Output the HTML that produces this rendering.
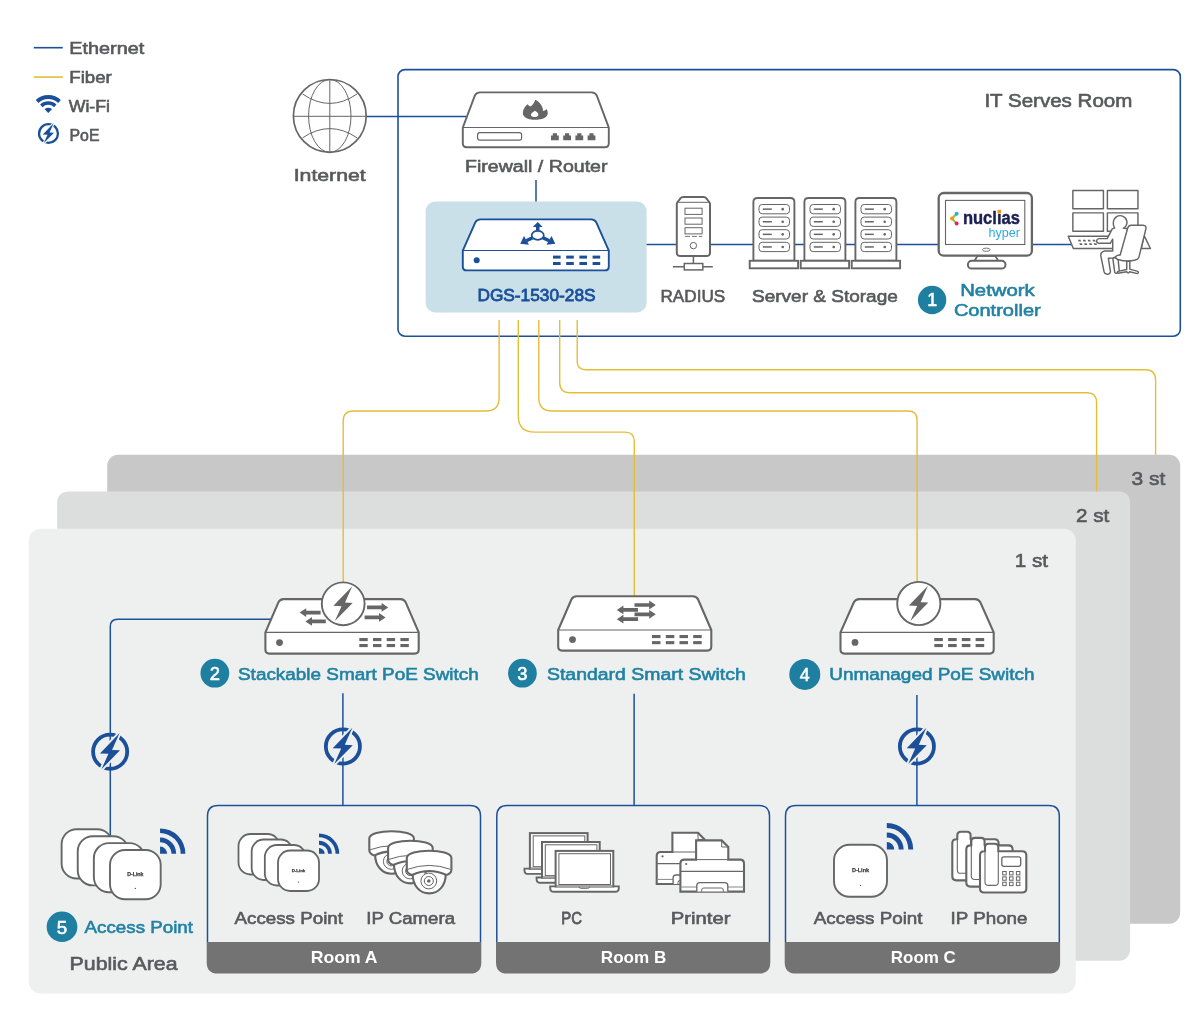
<!DOCTYPE html>
<html><head><meta charset="utf-8"><title>Network Diagram</title>
<style>html,body{margin:0;padding:0;background:#fff;}svg{display:block;will-change:opacity;filter:contrast(1);}text{font-family:"Liberation Sans",sans-serif;}</style></head>
<body>
<svg width="1200" height="1034" viewBox="0 0 1200 1034">
<rect x="107.2" y="454.7" width="1073" height="469" rx="11" fill="#c8c8c8"/>
<rect x="57.1" y="491.4" width="1073" height="469.4" rx="11" fill="#dcdede"/>
<rect x="28.8" y="528.8" width="1047" height="464.6" rx="12" fill="#eef0f0"/>
<rect x="398" y="69.6" width="782.3" height="266.6" rx="7" fill="#fff" stroke="#1d509a" stroke-width="1.6"/>
<rect x="425.6" y="201.6" width="221" height="110.8" rx="9.5" fill="#c9e0e9"/>
<path fill="none" stroke="#e4bd39" stroke-width="1.4" d="M499.1,320 V398 Q499.1,411 486,411 H353.4 Q343.2,411 343.2,421 V583"/>
<path fill="none" stroke="#e4bd39" stroke-width="1.4" d="M518.3,320 V416 Q518.3,432.1 535,432.1 H625 Q634.3,432.1 634.3,441.5 V596"/>
<path fill="none" stroke="#e4bd39" stroke-width="1.4" d="M538.8,320 V398 Q538.8,411 552,411 H908 Q917.1,411 917.1,420 V582.5"/>
<path fill="none" stroke="#e4bd39" stroke-width="1.4" d="M559.7,320 V382.5 Q559.7,392.7 570,392.7 H1087 Q1096.6,392.7 1096.6,402.5 V491.4"/>
<path fill="none" stroke="#e4bd39" stroke-width="1.4" d="M577.2,320 V361.5 Q577.2,369.7 585.5,369.7 H1145.5 Q1155.6,369.7 1155.6,380 V454.7"/>
<path fill="none" stroke="#1d509a" stroke-width="1.5" d="M366.5,116.5 H466"/>
<path fill="none" stroke="#1d509a" stroke-width="1.5" d="M536,180 V201.6"/>
<path fill="none" stroke="#1d509a" stroke-width="1.5" d="M646.6,244.6 H1072"/>
<path fill="none" stroke="#1d509a" stroke-width="1.5" d="M271,619.2 H117.5 Q110.3,619.2 110.3,626.5 V836"/>
<path fill="none" stroke="#1d509a" stroke-width="1.5" d="M342.9,693.3 V805.5"/>
<path fill="none" stroke="#1d509a" stroke-width="1.5" d="M634.1,693.8 V805.5"/>
<path fill="none" stroke="#1d509a" stroke-width="1.5" d="M916.9,695 V805.5"/>
<path d="M206.7,942 H481.3 V962.5 Q481.3,973.6 470.0,973.6 H218.0 Q206.7,973.6 206.7,962.5 Z" fill="#737373"/>
<path fill="none" stroke="#1d509a" stroke-width="1.5" d="M207.5,942 V816.0 Q207.5,805.5 218.0,805.5 H470.0 Q480.5,805.5 480.5,816.0 V942"/>
<text x="310.7" y="963.3" textLength="66.8" lengthAdjust="spacingAndGlyphs" font-size="16.9" fill="#fff" style="font-weight:700;" >Room A</text>
<path d="M496.0,942 H770.3 V962.5 Q770.3,973.6 759.0,973.6 H507.3 Q496.0,973.6 496.0,962.5 Z" fill="#737373"/>
<path fill="none" stroke="#1d509a" stroke-width="1.5" d="M496.8,942 V816.0 Q496.8,805.5 507.3,805.5 H759.0 Q769.5,805.5 769.5,816.0 V942"/>
<text x="600.8" y="963.3" textLength="65.5" lengthAdjust="spacingAndGlyphs" font-size="16.9" fill="#fff" style="font-weight:700;" >Room B</text>
<path d="M784.7,942 H1060.1 V962.5 Q1060.1,973.6 1048.8,973.6 H796.0 Q784.7,973.6 784.7,962.5 Z" fill="#737373"/>
<path fill="none" stroke="#1d509a" stroke-width="1.5" d="M785.5,942 V816.0 Q785.5,805.5 796.0,805.5 H1048.8 Q1059.3,805.5 1059.3,816.0 V942"/>
<text x="890.8" y="963.3" textLength="65" lengthAdjust="spacingAndGlyphs" font-size="16.9" fill="#fff" style="font-weight:700;" >Room C</text>
<path d="M33.8,47.7 H62.8" stroke="#1d509a" stroke-width="1.6"/>
<path d="M33.8,77.1 H62.8" stroke="#e4bd39" stroke-width="1.6"/>
<path d="M60.87,100.08 A18.1,18.1 0 0 0 35.73,100.08 L38.44,102.89 A14.2,14.2 0 0 1 58.16,102.89 Z" fill="#1b4f99"/>
<path d="M56.50,104.61 A11.8,11.8 0 0 0 40.10,104.61 L42.53,107.13 A8.3,8.3 0 0 1 54.07,107.13 Z" fill="#1b4f99"/>
<path d="M48.3,113.1 L51.98,109.29 A5.3,5.3 0 0 0 44.62,109.29 Z" fill="#1b4f99"/>
<circle cx="48.5" cy="133.5" r="9.45" fill="none" stroke="#1b4f99" stroke-width="2.3"/>
<polygon points="53.80,123.01 42.78,134.45 47.55,134.67 43.62,143.36 54.01,132.76 49.56,132.55" fill="#fff" stroke="#fff" stroke-width="2.12" stroke-linejoin="miter" stroke-miterlimit="12"/>
<polygon points="53.80,123.01 42.78,134.45 47.55,134.67 43.62,143.36 54.01,132.76 49.56,132.55" fill="#1b4f99"/>
<circle cx="329.8" cy="115.9" r="36.4" fill="#fff" stroke="#666666" stroke-width="1.7"/>
<ellipse cx="329.8" cy="115.9" rx="21.2" ry="36.4" fill="none" stroke="#666666" stroke-width="1"/>
<path d="M329.8,79.5 V152.3 M293.40000000000003,116.30000000000001 H366.2" fill="none" stroke="#666666" stroke-width="1"/>
<path d="M302.6,94 Q329.8,112.8 357,94 M302.6,137.8 Q329.8,119.4 357,137.8" fill="none" stroke="#666666" stroke-width="1"/>
<path d="M462.8,143.2 Q462.8,147.2 466.8,147.2 H604.8 Q608.8,147.2 608.8,143.2 V127.6 L596.8,95.6 Q595.1999999999999,92.4 591.6,92.4 H480.0 Q476.40000000000003,92.4 474.8,95.6 L462.8,127.6 Z" fill="#fff" stroke="#666666" stroke-width="1.9" stroke-linejoin="round"/>
<path d="M462.8,127.6 H608.8" stroke="#666666" stroke-width="1.04" fill="none"/>
<rect x="477.6" y="132.6" width="44" height="7.6" rx="2.2" fill="#fff" stroke="#666666" stroke-width="1.2"/>
<path d="M551,140.2 V135.4 H552.8 V133.2 H557 V135.4 H558.8 V140.2 Z" fill="#666666"/>
<path d="M563.2,140.2 V135.4 H565.0 V133.2 H569.2 V135.4 H571.0 V140.2 Z" fill="#666666"/>
<path d="M575.4,140.2 V135.4 H577.1999999999999 V133.2 H581.4 V135.4 H583.1999999999999 V140.2 Z" fill="#666666"/>
<path d="M587.6,140.2 V135.4 H589.4 V133.2 H593.6 V135.4 H595.4 V140.2 Z" fill="#666666"/>
<g transform="translate(505,92) scale(0.05)"><path fill="#666666" fill-rule="evenodd" d="M605,155 C685,195 762,275 760,378 C790,372 815,357 832,338 C862,390 862,440 835,482 C790,542 690,558 600,557 C500,558 410,532 370,470 C338,410 370,310 450,243 C470,265 490,280 512,292 C552,260 588,212 605,155 Z M600,375 C560,400 518,425 518,455 C518,487 560,502 595,502 C636,502 670,482 667,445 C664,415 626,395 600,375 Z"/></g>
<path d="M462.8,266.4 Q462.8,270.4 466.8,270.4 H604.8 Q608.8,270.4 608.8,266.4 V250.6 L596.4,222.6 Q594.8,219.4 591.2,219.4 H480.4 Q476.8,219.4 475.2,222.6 L462.8,250.6 Z" fill="#fff" stroke="#1b4f99" stroke-width="1.9" stroke-linejoin="round"/>
<path d="M462.8,250.6 H608.8" stroke="#1b4f99" stroke-width="1.04" fill="none"/>
<circle cx="476.7" cy="260.3" r="3" fill="#1b4f99"/>
<rect x="553" y="255.6" width="7.6" height="3" fill="#1b4f99"/>
<rect x="553" y="262" width="7.6" height="3" fill="#1b4f99"/>
<rect x="566.2" y="255.6" width="7.6" height="3" fill="#1b4f99"/>
<rect x="566.2" y="262" width="7.6" height="3" fill="#1b4f99"/>
<rect x="579.4" y="255.6" width="7.6" height="3" fill="#1b4f99"/>
<rect x="579.4" y="262" width="7.6" height="3" fill="#1b4f99"/>
<rect x="592.6" y="255.6" width="7.6" height="3" fill="#1b4f99"/>
<rect x="592.6" y="262" width="7.6" height="3" fill="#1b4f99"/>
<ellipse cx="537.75" cy="235.3" rx="6.05" ry="4.5" fill="#fff" stroke="#1b4f99" stroke-width="1.7"/>
<polygon points="537.75,221.9 542.7,227 539.5,227 539.5,230.6 536,230.6 536,227 532.8,227" fill="#1b4f99"/>
<polygon points="520.2,243.8 524,236 529,244.8" fill="#1b4f99"/>
<polygon points="555.3,243.8 551.5,236 546.5,244.8" fill="#1b4f99"/>
<path d="M532.4,237.9 L526.3,240.7 M543.1,237.9 L549.2,240.7" stroke="#1b4f99" stroke-width="3.4" fill="none"/>
<path d="M693.4,256 V263.5 M672.9,266.7 H712.8" stroke="#666666" stroke-width="1.5" fill="none"/>
<rect x="684.3" y="263.5" width="18.5" height="6.4" fill="#fff" stroke="#666666" stroke-width="1.5"/>
<path d="M676.8,204 Q676.8,203 677.6,202 L680.6,198.2 Q681.6,197 683.2,197 H703.6 Q705.2,197 706.2,198.2 L709.2,202 Q710,203 710,204 V252.4 Q710,256 706.4,256 H680.4 Q676.8,256 676.8,252.4 Z" fill="#fff" stroke="#666666" stroke-width="2"/>
<path d="M677.6,202.3 H709.2" fill="none" stroke="#666666" stroke-width="1"/>
<rect x="685" y="208.2" width="17.1" height="6.2" fill="#fff" stroke="#666666" stroke-width="1"/>
<rect x="685" y="218" width="17.1" height="6.2" fill="#fff" stroke="#666666" stroke-width="1"/>
<rect x="685" y="227.7" width="17.1" height="6.2" fill="#fff" stroke="#666666" stroke-width="1"/>
<path d="M685,236.4 H702.2" stroke="#666666" stroke-width="0.9" stroke-dasharray="5,1.9" fill="none"/>
<circle cx="693.4" cy="245.6" r="3.2" fill="#fff" stroke="#666666" stroke-width="1"/>
<path d="M753.4,260.8 V202 Q753.4,198 757.4,198 H790.4 Q794.4,198 794.4,202 V260.8 Z" fill="#fff" stroke="#666666" stroke-width="1.9"/>
<rect x="749.7" y="260.8" width="48.4" height="7.5" fill="#fff" stroke="#666666" stroke-width="1.9"/>
<rect x="759.0" y="204.50" width="30.5" height="9.3" rx="3.2" fill="#fff" stroke="#666666" stroke-width="1"/>
<path d="M762.8,209.15 H771.8" stroke="#666666" stroke-width="1.5" fill="none"/>
<circle cx="782.7" cy="209.15" r="1.3" fill="#666666"/>
<rect x="759.0" y="217.10" width="30.5" height="9.3" rx="3.2" fill="#fff" stroke="#666666" stroke-width="1"/>
<path d="M762.8,221.75 H771.8" stroke="#666666" stroke-width="1.5" fill="none"/>
<circle cx="782.7" cy="221.75" r="1.3" fill="#666666"/>
<rect x="759.0" y="229.70" width="30.5" height="9.3" rx="3.2" fill="#fff" stroke="#666666" stroke-width="1"/>
<path d="M762.8,234.35 H771.8" stroke="#666666" stroke-width="1.5" fill="none"/>
<circle cx="782.7" cy="234.35" r="1.3" fill="#666666"/>
<rect x="759.0" y="242.30" width="30.5" height="9.3" rx="3.2" fill="#fff" stroke="#666666" stroke-width="1"/>
<path d="M762.8,246.95 H771.8" stroke="#666666" stroke-width="1.5" fill="none"/>
<circle cx="782.7" cy="246.95" r="1.3" fill="#666666"/>
<path d="M804.4,260.8 V202 Q804.4,198 808.4,198 H841.4 Q845.4,198 845.4,202 V260.8 Z" fill="#fff" stroke="#666666" stroke-width="1.9"/>
<rect x="800.7" y="260.8" width="48.4" height="7.5" fill="#fff" stroke="#666666" stroke-width="1.9"/>
<rect x="810.0" y="204.50" width="30.5" height="9.3" rx="3.2" fill="#fff" stroke="#666666" stroke-width="1"/>
<path d="M813.8,209.15 H822.8" stroke="#666666" stroke-width="1.5" fill="none"/>
<circle cx="833.7" cy="209.15" r="1.3" fill="#666666"/>
<rect x="810.0" y="217.10" width="30.5" height="9.3" rx="3.2" fill="#fff" stroke="#666666" stroke-width="1"/>
<path d="M813.8,221.75 H822.8" stroke="#666666" stroke-width="1.5" fill="none"/>
<circle cx="833.7" cy="221.75" r="1.3" fill="#666666"/>
<rect x="810.0" y="229.70" width="30.5" height="9.3" rx="3.2" fill="#fff" stroke="#666666" stroke-width="1"/>
<path d="M813.8,234.35 H822.8" stroke="#666666" stroke-width="1.5" fill="none"/>
<circle cx="833.7" cy="234.35" r="1.3" fill="#666666"/>
<rect x="810.0" y="242.30" width="30.5" height="9.3" rx="3.2" fill="#fff" stroke="#666666" stroke-width="1"/>
<path d="M813.8,246.95 H822.8" stroke="#666666" stroke-width="1.5" fill="none"/>
<circle cx="833.7" cy="246.95" r="1.3" fill="#666666"/>
<path d="M855.4,260.8 V202 Q855.4,198 859.4,198 H892.4 Q896.4,198 896.4,202 V260.8 Z" fill="#fff" stroke="#666666" stroke-width="1.9"/>
<rect x="851.7" y="260.8" width="48.4" height="7.5" fill="#fff" stroke="#666666" stroke-width="1.9"/>
<rect x="861.0" y="204.50" width="30.5" height="9.3" rx="3.2" fill="#fff" stroke="#666666" stroke-width="1"/>
<path d="M864.8,209.15 H873.8" stroke="#666666" stroke-width="1.5" fill="none"/>
<circle cx="884.7" cy="209.15" r="1.3" fill="#666666"/>
<rect x="861.0" y="217.10" width="30.5" height="9.3" rx="3.2" fill="#fff" stroke="#666666" stroke-width="1"/>
<path d="M864.8,221.75 H873.8" stroke="#666666" stroke-width="1.5" fill="none"/>
<circle cx="884.7" cy="221.75" r="1.3" fill="#666666"/>
<rect x="861.0" y="229.70" width="30.5" height="9.3" rx="3.2" fill="#fff" stroke="#666666" stroke-width="1"/>
<path d="M864.8,234.35 H873.8" stroke="#666666" stroke-width="1.5" fill="none"/>
<circle cx="884.7" cy="234.35" r="1.3" fill="#666666"/>
<rect x="861.0" y="242.30" width="30.5" height="9.3" rx="3.2" fill="#fff" stroke="#666666" stroke-width="1"/>
<path d="M864.8,246.95 H873.8" stroke="#666666" stroke-width="1.5" fill="none"/>
<circle cx="884.7" cy="246.95" r="1.3" fill="#666666"/>
<path d="M977.6,255.8 L974.4,261 H998.4 L995.2,255.8 Z" fill="#fff" stroke="#666666" stroke-width="1.7"/>
<rect x="967.9" y="260.8" width="37.6" height="7.8" rx="3.9" fill="#fff" stroke="#666666" stroke-width="2"/>
<rect x="938.7" y="193" width="93.2" height="62.7" rx="5" fill="#fff" stroke="#666666" stroke-width="2.3"/>
<rect x="945.5" y="200.4" width="79.3" height="44.1" fill="#fff" stroke="#666666" stroke-width="1.1"/>
<ellipse cx="986.3" cy="249.7" rx="3.8" ry="1.6" fill="#fff" stroke="#666666" stroke-width="0.9"/>
<path d="M956.65,213.8 L952,218.6 L956.65,223.5" fill="none" stroke="#8cc63f" stroke-width="2.1" stroke-linecap="round" stroke-linejoin="round"/>
<circle cx="956.65" cy="213.75" r="1.95" fill="#29abe2"/>
<circle cx="956.65" cy="223.5" r="1.95" fill="#e91e63"/>
<circle cx="952" cy="218.6" r="2" fill="#f7931e"/>
<g transform="translate(1060,180) scale(0.09671)">
<rect x="133" y="108" width="316" height="190" fill="#fff" stroke="#666666" stroke-width="15.0" stroke-linejoin="round" stroke-linecap="round" stroke-linejoin="miter"/>
<rect x="490" y="108" width="316" height="190" fill="#fff" stroke="#666666" stroke-width="15.0" stroke-linejoin="round" stroke-linecap="round" stroke-linejoin="miter"/>
<rect x="133" y="340" width="316" height="190" fill="#fff" stroke="#666666" stroke-width="15.0" stroke-linejoin="round" stroke-linecap="round" stroke-linejoin="miter"/>
<rect x="490" y="340" width="316" height="190" fill="#fff" stroke="#666666" stroke-width="15.0" stroke-linejoin="round" stroke-linecap="round" stroke-linejoin="miter"/>
<path d="M870,575 L935,708 H840 Z" fill="#fff" stroke="#666666" stroke-width="15.0" stroke-linejoin="round" stroke-linecap="round"/>
<path d="M85,582 H560 V708 H138 Z" fill="#fff" stroke="#666666" stroke-width="15.0" stroke-linejoin="round" stroke-linecap="round"/>
<path d="M186,619 H212 L218,637 H192 Z" fill="#666666"/>
<path d="M236,619 H262 L268,637 H242 Z" fill="#666666"/>
<path d="M286,619 H312 L318,637 H292 Z" fill="#666666"/>
<path d="M336,619 H362 L368,637 H342 Z" fill="#666666"/>
<path d="M200,653 H226 L232,671 H206 Z" fill="#666666"/>
<path d="M250,653 H276 L282,671 H256 Z" fill="#666666"/>
<path d="M300,653 H326 L332,671 H306 Z" fill="#666666"/>
<path d="M350,653 H376 L382,671 H356 Z" fill="#666666"/>
<path d="M545,800 L566,955 Q570,968 585,963 L614,950 L600,812 Z" fill="#fff" stroke="#666666" stroke-width="15.0" stroke-linejoin="round" stroke-linecap="round"/>
<path d="M565,497 Q548,470 552,440 A70,70 0 1 1 672,488 L655,497 L700,505 L640,770 L548,806 L500,810 L522,950 Q515,978 488,975 Q462,972 455,945 L422,785 Q418,745 455,735 H545 V612 L520,655 H400 Q378,652 378,632 Q380,610 402,606 H488 L540,505 Z" fill="#fff" stroke="#666666" stroke-width="15.0" stroke-linejoin="round" stroke-linecap="round"/>
<path d="M700,498 Q707,470 735,468 H860 Q895,470 888,505 L818,790 Q812,822 770,830 Q690,850 600,822 Q568,808 578,790 Q590,775 622,775 Z" fill="#fff" stroke="#666666" stroke-width="15.0" stroke-linejoin="round" stroke-linecap="round"/>
<path d="M690,842 V925 L600,945 Q585,955 600,965 L690,948 Q705,975 720,948 L800,968 Q818,960 805,945 L722,922 V838 Z" fill="#fff" stroke="#666666" stroke-width="15.0" stroke-linejoin="round" stroke-linecap="round"/>
</g>
<path d="M265.4,649.6 Q265.4,653.6 269.4,653.6 H414.7 Q418.7,653.6 418.7,649.6 V632.4 L405.7,602.3 Q404.09999999999997,599.1 400.5,599.1 H283.6 Q280.0,599.1 278.4,602.3 L265.4,632.4 Z" fill="#fff" stroke="#666666" stroke-width="2.1" stroke-linejoin="round"/>
<path d="M265.4,632.4 H418.7" stroke="#666666" stroke-width="1.16" fill="none"/>
<circle cx="279.5" cy="642.6" r="3.4" fill="#666666"/>
<rect x="359.3" y="638" width="8.4" height="3.1" fill="#666666"/>
<rect x="359.3" y="644" width="8.4" height="3.1" fill="#666666"/>
<rect x="373" y="638" width="8.4" height="3.1" fill="#666666"/>
<rect x="373" y="644" width="8.4" height="3.1" fill="#666666"/>
<rect x="386.7" y="638" width="8.4" height="3.1" fill="#666666"/>
<rect x="386.7" y="644" width="8.4" height="3.1" fill="#666666"/>
<rect x="400.4" y="638" width="8.4" height="3.1" fill="#666666"/>
<rect x="400.4" y="644" width="8.4" height="3.1" fill="#666666"/>
<path d="M320.6,610.75 H306.20000000000005 V608.2 L299.6,612.6 L306.20000000000005,617.0 V614.45 H320.6 Z" fill="#666666"/>
<path d="M325.8,619.55 H312.0 V617.0 L305.4,621.4 L312.0,625.8 V623.25 H325.8 Z" fill="#666666"/>
<path d="M367,605.55 H381.59999999999997 V603.0 L388.2,607.4 L381.59999999999997,611.8 V609.25 H367 Z" fill="#666666"/>
<path d="M364.6,615.55 H379.0 V613.0 L385.6,617.4 L379.0,621.8 V619.25 H364.6 Z" fill="#666666"/>
<circle cx="343.2" cy="603.8000000000001" r="21.4" fill="#fff" stroke="#666666" stroke-width="1.9"/>
<polygon points="352.29,586.19 333.38,605.84 341.56,606.20 334.83,621.12 352.66,602.93 345.02,602.56" fill="#666666"/>
<path d="M558.2,646.6 Q558.2,650.6 562.2,650.6 H707.3 Q711.3,650.6 711.3,646.6 V630 L698.1,599.5 Q696.5,596.3 692.9,596.3 H576.6 Q573.0,596.3 571.4,599.5 L558.2,630 Z" fill="#fff" stroke="#666666" stroke-width="2.1" stroke-linejoin="round"/>
<path d="M558.2,630 H711.3" stroke="#666666" stroke-width="1.16" fill="none"/>
<circle cx="572.5" cy="639.6" r="3.4" fill="#666666"/>
<rect x="652" y="635" width="8.5" height="3.1" fill="#666666"/>
<rect x="652" y="641.1" width="8.5" height="3.1" fill="#666666"/>
<rect x="665.8" y="635" width="8.5" height="3.1" fill="#666666"/>
<rect x="665.8" y="641.1" width="8.5" height="3.1" fill="#666666"/>
<rect x="679.5" y="635" width="8.5" height="3.1" fill="#666666"/>
<rect x="679.5" y="641.1" width="8.5" height="3.1" fill="#666666"/>
<rect x="693.2" y="635" width="8.5" height="3.1" fill="#666666"/>
<rect x="693.2" y="641.1" width="8.5" height="3.1" fill="#666666"/>
<path d="M634.5,603.15 H649.1999999999999 V600.6 L655.8,605 L649.1999999999999,609.4 V606.85 H634.5 Z" fill="#666666"/>
<path d="M634.5,612.4499999999999 H649.1999999999999 V609.9 L655.8,614.3 L649.1999999999999,618.6999999999999 V616.15 H634.5 Z" fill="#666666"/>
<path d="M638,608.05 H623.4 V605.5 L616.8,609.9 L623.4,614.3 V611.75 H638 Z" fill="#666666"/>
<path d="M638,617.35 H623.4 V614.8000000000001 L616.8,619.2 L623.4,623.6 V621.0500000000001 H638 Z" fill="#666666"/>
<path d="M840.5,649.6 Q840.5,653.6 844.5,653.6 H989.7 Q993.7,653.6 993.7,649.6 V632.4 L980.3,602.3 Q978.7,599.1 975.1,599.1 H859.1 Q855.5,599.1 853.9,602.3 L840.5,632.4 Z" fill="#fff" stroke="#666666" stroke-width="2.1" stroke-linejoin="round"/>
<path d="M840.5,632.4 H993.7" stroke="#666666" stroke-width="1.16" fill="none"/>
<circle cx="855" cy="642.4" r="3.4" fill="#666666"/>
<rect x="934.3" y="638" width="8.6" height="3.1" fill="#666666"/>
<rect x="934.3" y="644" width="8.6" height="3.1" fill="#666666"/>
<rect x="948.1" y="638" width="8.6" height="3.1" fill="#666666"/>
<rect x="948.1" y="644" width="8.6" height="3.1" fill="#666666"/>
<rect x="961.8" y="638" width="8.6" height="3.1" fill="#666666"/>
<rect x="961.8" y="644" width="8.6" height="3.1" fill="#666666"/>
<rect x="975.6" y="638" width="8.6" height="3.1" fill="#666666"/>
<rect x="975.6" y="644" width="8.6" height="3.1" fill="#666666"/>
<circle cx="918.8" cy="603.5" r="21.6" fill="#fff" stroke="#666666" stroke-width="1.9"/>
<polygon points="927.98,585.72 908.89,605.55 917.15,605.92 910.35,620.97 928.35,602.61 920.64,602.25" fill="#666666"/>
<circle cx="110.15" cy="751.7" r="17.05" fill="none" stroke="#1b4f99" stroke-width="3.8"/>
<polygon points="119.62,732.94 99.92,753.41 108.44,753.78 101.43,769.32 120.00,750.37 112.05,749.99" fill="#eef0f0" stroke="#eef0f0" stroke-width="3.79" stroke-linejoin="miter" stroke-miterlimit="12"/>
<polygon points="119.62,732.94 99.92,753.41 108.44,753.78 101.43,769.32 120.00,750.37 112.05,749.99" fill="#1b4f99"/>
<circle cx="342.9" cy="746.5" r="17.05" fill="none" stroke="#1b4f99" stroke-width="3.8"/>
<polygon points="352.38,727.74 332.67,748.21 341.19,748.58 334.18,764.12 352.75,745.17 344.79,744.79" fill="#eef0f0" stroke="#eef0f0" stroke-width="3.79" stroke-linejoin="miter" stroke-miterlimit="12"/>
<polygon points="352.38,727.74 332.67,748.21 341.19,748.58 334.18,764.12 352.75,745.17 344.79,744.79" fill="#1b4f99"/>
<circle cx="916.9" cy="746.5" r="17.05" fill="none" stroke="#1b4f99" stroke-width="3.8"/>
<polygon points="926.38,727.74 906.67,748.21 915.19,748.58 908.18,764.12 926.75,745.17 918.79,744.79" fill="#eef0f0" stroke="#eef0f0" stroke-width="3.79" stroke-linejoin="miter" stroke-miterlimit="12"/>
<polygon points="926.38,727.74 906.67,748.21 915.19,748.58 908.18,764.12 926.75,745.17 918.79,744.79" fill="#1b4f99"/>
<rect x="61.60" y="829.30" width="50.7" height="49.2" rx="15" fill="#fff" stroke="#666666" stroke-width="1.9"/>
<rect x="77.73" y="836.20" width="50.7" height="49.2" rx="15" fill="#fff" stroke="#666666" stroke-width="1.9"/>
<rect x="93.86" y="843.10" width="50.7" height="49.2" rx="15" fill="#fff" stroke="#666666" stroke-width="1.9"/>
<rect x="109.99" y="850.00" width="50.7" height="49.2" rx="15" fill="#fff" stroke="#666666" stroke-width="1.9"/>
<circle cx="135.34" cy="888.38" r="0.65" fill="#444"/>
<path d="M185.35,853.70 A25.3,25.3 0 0 0 160.05,828.40 L160.05,833.08 A20.6195,20.6195 0 0 1 180.67,853.70 Z" fill="#1b4f99"/>
<path d="M176.17,853.70 A16.1161,16.1161 0 0 0 160.05,837.58 L160.05,842.32 A11.385,11.385 0 0 1 171.44,853.70 Z" fill="#1b4f99"/>
<path d="M160.05,853.7 L167.13,853.70 A7.0840000000000005,7.0840000000000005 0 0 0 160.05,846.62 Z" fill="#1b4f99"/>
<rect x="238.50" y="834.00" width="41" height="40.5" rx="12" fill="#fff" stroke="#666666" stroke-width="1.8"/>
<rect x="251.67" y="839.50" width="41" height="40.5" rx="12" fill="#fff" stroke="#666666" stroke-width="1.8"/>
<rect x="264.84" y="845.00" width="41" height="40.5" rx="12" fill="#fff" stroke="#666666" stroke-width="1.8"/>
<rect x="278.01" y="850.50" width="41" height="40.5" rx="12" fill="#fff" stroke="#666666" stroke-width="1.8"/>
<circle cx="298.51" cy="882.09" r="0.65" fill="#444"/>
<path d="M339.30,853.80 A20.3,20.3 0 0 0 319.00,833.50 L319.00,837.26 A16.5445,16.5445 0 0 1 335.54,853.80 Z" fill="#1b4f99"/>
<path d="M331.93,853.80 A12.9311,12.9311 0 0 0 319.00,840.87 L319.00,844.66 A9.135,9.135 0 0 1 328.13,853.80 Z" fill="#1b4f99"/>
<path d="M319,853.8 L324.68,853.80 A5.684000000000001,5.684000000000001 0 0 0 319.00,848.12 Z" fill="#1b4f99"/>
<rect x="834.00" y="844.80" width="53" height="52" rx="15.5" fill="#fff" stroke="#666666" stroke-width="1.9"/>
<circle cx="860.50" cy="885.36" r="0.65" fill="#444"/>
<path d="M913.20,849.40 A26.4,26.4 0 0 0 886.80,823.00 L886.80,827.88 A21.516,21.516 0 0 1 908.32,849.40 Z" fill="#1b4f99"/>
<path d="M903.62,849.40 A16.8168,16.8168 0 0 0 886.80,832.58 L886.80,837.52 A11.879999999999999,11.879999999999999 0 0 1 898.68,849.40 Z" fill="#1b4f99"/>
<path d="M886.8,849.4 L894.19,849.40 A7.392,7.392 0 0 0 886.80,842.01 Z" fill="#1b4f99"/>
<g transform="translate(-37.5,-19.6)">
<path d="M412.6,873.5 C412.6,886 420,893.4 429.2,893.4 C438.4,893.4 445.8,886 445.8,873.5" fill="#fff" stroke="#666666" stroke-width="2.1"/>
<circle cx="428.8" cy="881" r="7.9" fill="#fff" stroke="#666666" stroke-width="1"/>
<circle cx="428.8" cy="881" r="4.5" fill="#fff" stroke="#666666" stroke-width="1"/>
<circle cx="428.8" cy="881" r="1.8" fill="#666666"/>
<path d="M406.8,858 C406.8,848.4 451.4,848.4 451.4,858 V869.6 Q451.4,873.6 446.4,875 Q429.2,867 412,875 Q406.8,873.6 406.8,869.6 Z" fill="#fff" stroke="#666666" stroke-width="2.1" stroke-linejoin="round"/>
<path d="M407.6,869.4 Q429.2,861.4 450.6,869.4" fill="none" stroke="#666666" stroke-width="1"/>
</g>
<g transform="translate(-18.7,-10)">
<path d="M412.6,873.5 C412.6,886 420,893.4 429.2,893.4 C438.4,893.4 445.8,886 445.8,873.5" fill="#fff" stroke="#666666" stroke-width="2.1"/>
<circle cx="428.8" cy="881" r="7.9" fill="#fff" stroke="#666666" stroke-width="1"/>
<circle cx="428.8" cy="881" r="4.5" fill="#fff" stroke="#666666" stroke-width="1"/>
<circle cx="428.8" cy="881" r="1.8" fill="#666666"/>
<path d="M406.8,858 C406.8,848.4 451.4,848.4 451.4,858 V869.6 Q451.4,873.6 446.4,875 Q429.2,867 412,875 Q406.8,873.6 406.8,869.6 Z" fill="#fff" stroke="#666666" stroke-width="2.1" stroke-linejoin="round"/>
<path d="M407.6,869.4 Q429.2,861.4 450.6,869.4" fill="none" stroke="#666666" stroke-width="1"/>
</g>
<g transform="translate(0,0)">
<path d="M412.6,873.5 C412.6,886 420,893.4 429.2,893.4 C438.4,893.4 445.8,886 445.8,873.5" fill="#fff" stroke="#666666" stroke-width="2.1"/>
<circle cx="428.8" cy="881" r="7.9" fill="#fff" stroke="#666666" stroke-width="1"/>
<circle cx="428.8" cy="881" r="4.5" fill="#fff" stroke="#666666" stroke-width="1"/>
<circle cx="428.8" cy="881" r="1.8" fill="#666666"/>
<path d="M406.8,858 C406.8,848.4 451.4,848.4 451.4,858 V869.6 Q451.4,873.6 446.4,875 Q429.2,867 412,875 Q406.8,873.6 406.8,869.6 Z" fill="#fff" stroke="#666666" stroke-width="2.1" stroke-linejoin="round"/>
<path d="M407.6,869.4 Q429.2,861.4 450.6,869.4" fill="none" stroke="#666666" stroke-width="1"/>
</g>
<g transform="translate(-25.7,-17.8)">
<path d="M550.2,886.4 H618.8 V888.2 Q618.8,891.7 615.2,891.7 H553.8 Q550.2,891.7 550.2,888.2 Z" fill="#fff" stroke="#666666" stroke-width="1.9"/>
<rect x="555.6" y="850.9" width="57.7" height="35.5" fill="#fff" stroke="#666666" stroke-width="2"/>
<rect x="558.9" y="853.7" width="51.6" height="30.8" fill="#fff" stroke="#666666" stroke-width="1"/>
<path d="M556.6,886.5 H612.3" fill="none" stroke="#a9a4a2" stroke-width="1"/>
<path d="M579,886.6 Q579,888.4 581,888.4 H587.6 Q589.6,888.4 589.6,886.6" fill="none" stroke="#666666" stroke-width="0.9"/>
</g>
<g transform="translate(-13.6,-8.9)">
<path d="M550.2,886.4 H618.8 V888.2 Q618.8,891.7 615.2,891.7 H553.8 Q550.2,891.7 550.2,888.2 Z" fill="#fff" stroke="#666666" stroke-width="1.9"/>
<rect x="555.6" y="850.9" width="57.7" height="35.5" fill="#fff" stroke="#666666" stroke-width="2"/>
<rect x="558.9" y="853.7" width="51.6" height="30.8" fill="#fff" stroke="#666666" stroke-width="1"/>
<path d="M556.6,886.5 H612.3" fill="none" stroke="#a9a4a2" stroke-width="1"/>
<path d="M579,886.6 Q579,888.4 581,888.4 H587.6 Q589.6,888.4 589.6,886.6" fill="none" stroke="#666666" stroke-width="0.9"/>
</g>
<g transform="translate(0,0)">
<path d="M550.2,886.4 H618.8 V888.2 Q618.8,891.7 615.2,891.7 H553.8 Q550.2,891.7 550.2,888.2 Z" fill="#fff" stroke="#666666" stroke-width="1.9"/>
<rect x="555.6" y="850.9" width="57.7" height="35.5" fill="#fff" stroke="#666666" stroke-width="2"/>
<rect x="558.9" y="853.7" width="51.6" height="30.8" fill="#fff" stroke="#666666" stroke-width="1"/>
<path d="M556.6,886.5 H612.3" fill="none" stroke="#a9a4a2" stroke-width="1"/>
<path d="M579,886.6 Q579,888.4 581,888.4 H587.6 Q589.6,888.4 589.6,886.6" fill="none" stroke="#666666" stroke-width="0.9"/>
</g>
<g transform="translate(-23.7,-7.6)">
<path d="M680.4,891.6 V863.6 Q680.4,859.6 684.4,859.6 H696.1 V840.4 H721.7 L728.3,847 V859.6 H740 Q744,859.6 744,863.6 V891.6 Z" fill="#fff" stroke="#666666" stroke-width="2.1" stroke-linejoin="miter"/>
<path d="M696.1,859.6 H728.3 M721.7,840.8 V847 H728" fill="none" stroke="#666666" stroke-width="1"/>
<path d="M680.4,871.3 H744" fill="none" stroke="#666666" stroke-width="1.2"/>
<path d="M680.4,887 H696.8 M727.8,887 H744" fill="none" stroke="#8a8786" stroke-width="1"/>
<path d="M696.8,891.6 V885.6 Q696.8,882.6 699.8,882.6 H724.8 Q727.8,882.6 727.8,885.6 V891.6" fill="#fff" stroke="#666666" stroke-width="1.3"/>
<path d="M701.7,891.6 V890 Q701.7,888 703.7,888 H721.3 Q723.3,888 723.3,890 V891.6" fill="none" stroke="#666666" stroke-width="1"/>
<circle cx="686.2" cy="864" r="1.1" fill="#666666"/>
</g>
<g transform="translate(0,0)">
<path d="M680.4,891.6 V863.6 Q680.4,859.6 684.4,859.6 H696.1 V840.4 H721.7 L728.3,847 V859.6 H740 Q744,859.6 744,863.6 V891.6 Z" fill="#fff" stroke="#666666" stroke-width="2.1" stroke-linejoin="miter"/>
<path d="M696.1,859.6 H728.3 M721.7,840.8 V847 H728" fill="none" stroke="#666666" stroke-width="1"/>
<path d="M680.4,871.3 H744" fill="none" stroke="#666666" stroke-width="1.2"/>
<path d="M680.4,887 H696.8 M727.8,887 H744" fill="none" stroke="#8a8786" stroke-width="1"/>
<path d="M696.8,891.6 V885.6 Q696.8,882.6 699.8,882.6 H724.8 Q727.8,882.6 727.8,885.6 V891.6" fill="#fff" stroke="#666666" stroke-width="1.3"/>
<path d="M701.7,891.6 V890 Q701.7,888 703.7,888 H721.3 Q723.3,888 723.3,890 V891.6" fill="none" stroke="#666666" stroke-width="1"/>
<circle cx="686.2" cy="864" r="1.1" fill="#666666"/>
</g>
<g transform="translate(-27.7,-12.1)">
<path d="M980,888.4 V855.4 Q980,851.3 984.1,851.3 H985 V847.4 Q985,843.8 988.6,843.8 H994.7 Q998.3,843.8 998.3,847.4 V851.3 H1022.2 Q1026.3,851.3 1026.3,855.4 V888.4 Q1026.3,892.5 1022.2,892.5 H984.1 Q980,892.5 980,888.4 Z" fill="#fff" stroke="#666666" stroke-width="2.1" stroke-linejoin="round"/>
<path d="M985,851 V882 Q985,885.4 988.4,885.4 H994.9 Q998.3,885.4 998.3,882 V851" fill="none" stroke="#666666" stroke-width="1.1"/>
</g>
<g transform="translate(-13.7,-5.9)">
<path d="M980,888.4 V855.4 Q980,851.3 984.1,851.3 H985 V847.4 Q985,843.8 988.6,843.8 H994.7 Q998.3,843.8 998.3,847.4 V851.3 H1022.2 Q1026.3,851.3 1026.3,855.4 V888.4 Q1026.3,892.5 1022.2,892.5 H984.1 Q980,892.5 980,888.4 Z" fill="#fff" stroke="#666666" stroke-width="2.1" stroke-linejoin="round"/>
<path d="M985,851 V882 Q985,885.4 988.4,885.4 H994.9 Q998.3,885.4 998.3,882 V851" fill="none" stroke="#666666" stroke-width="1.1"/>
</g>
<g transform="translate(0,0)">
<path d="M980,888.4 V855.4 Q980,851.3 984.1,851.3 H985 V847.4 Q985,843.8 988.6,843.8 H994.7 Q998.3,843.8 998.3,847.4 V851.3 H1022.2 Q1026.3,851.3 1026.3,855.4 V888.4 Q1026.3,892.5 1022.2,892.5 H984.1 Q980,892.5 980,888.4 Z" fill="#fff" stroke="#666666" stroke-width="2.1" stroke-linejoin="round"/>
<path d="M985,851 V882 Q985,885.4 988.4,885.4 H994.9 Q998.3,885.4 998.3,882 V851" fill="none" stroke="#666666" stroke-width="1.1"/>
<rect x="1001.8" y="856.8" width="18.9" height="9.5" rx="2" fill="#fff" stroke="#666666" stroke-width="1.3"/>
<rect x="1002.70" y="871.50" width="3.5" height="3.4" fill="#fff" stroke="#666666" stroke-width="1"/>
<rect x="1009.55" y="871.50" width="3.5" height="3.4" fill="#fff" stroke="#666666" stroke-width="1"/>
<rect x="1016.40" y="871.50" width="3.5" height="3.4" fill="#fff" stroke="#666666" stroke-width="1"/>
<rect x="1002.70" y="876.85" width="3.5" height="3.4" fill="#fff" stroke="#666666" stroke-width="1"/>
<rect x="1009.55" y="876.85" width="3.5" height="3.4" fill="#fff" stroke="#666666" stroke-width="1"/>
<rect x="1016.40" y="876.85" width="3.5" height="3.4" fill="#fff" stroke="#666666" stroke-width="1"/>
<rect x="1002.70" y="882.20" width="3.5" height="3.4" fill="#fff" stroke="#666666" stroke-width="1"/>
<rect x="1009.55" y="882.20" width="3.5" height="3.4" fill="#fff" stroke="#666666" stroke-width="1"/>
<rect x="1016.40" y="882.20" width="3.5" height="3.4" fill="#fff" stroke="#666666" stroke-width="1"/>
</g>
<text x="69.3" y="53.8" textLength="74.9" lengthAdjust="spacingAndGlyphs" font-size="16.5" fill="#58595b" style="font-weight:400;stroke:#58595b;stroke-width:0.62px;" >Ethernet</text>
<text x="69.3" y="83" textLength="42.4" lengthAdjust="spacingAndGlyphs" font-size="16.5" fill="#58595b" style="font-weight:400;stroke:#58595b;stroke-width:0.62px;" >Fiber</text>
<text x="68.7" y="111.8" textLength="41.3" lengthAdjust="spacingAndGlyphs" font-size="16.5" fill="#58595b" style="font-weight:400;stroke:#58595b;stroke-width:0.62px;" >Wi-Fi</text>
<text x="69.5" y="140.7" textLength="30" lengthAdjust="spacingAndGlyphs" font-size="16.5" fill="#58595b" style="font-weight:400;stroke:#58595b;stroke-width:0.62px;" >PoE</text>
<text x="293.7" y="180.8" textLength="72" lengthAdjust="spacingAndGlyphs" font-size="17.1" fill="#58595b" style="font-weight:400;stroke:#58595b;stroke-width:0.62px;" >Internet</text>
<text x="465" y="172" textLength="142.5" lengthAdjust="spacingAndGlyphs" font-size="17.3" fill="#58595b" style="font-weight:400;stroke:#58595b;stroke-width:0.62px;" >Firewall / Router</text>
<text x="984.4" y="107" textLength="148" lengthAdjust="spacingAndGlyphs" font-size="18.9" fill="#58595b" style="font-weight:400;stroke:#58595b;stroke-width:0.62px;" >IT Serves Room</text>
<text x="477.4" y="300.6" textLength="118.2" lengthAdjust="spacingAndGlyphs" font-size="17.3" fill="#1b4f99" style="font-weight:400;stroke:#1b4f99;stroke-width:0.8px;" >DGS-1530-28S</text>
<text x="660.5" y="301.8" textLength="64.7" lengthAdjust="spacingAndGlyphs" font-size="17.1" fill="#58595b" style="font-weight:400;stroke:#58595b;stroke-width:0.62px;" >RADIUS</text>
<text x="752" y="301.8" textLength="145.8" lengthAdjust="spacingAndGlyphs" font-size="17.1" fill="#58595b" style="font-weight:400;stroke:#58595b;stroke-width:0.62px;" >Server &amp; Storage</text>
<text x="960.2" y="295.5" textLength="74.6" lengthAdjust="spacingAndGlyphs" font-size="17.3" fill="#2182a4" style="font-weight:400;stroke:#2182a4;stroke-width:0.62px;" >Network</text>
<text x="953.9" y="316" textLength="86.8" lengthAdjust="spacingAndGlyphs" font-size="17.3" fill="#2182a4" style="font-weight:400;stroke:#2182a4;stroke-width:0.62px;" >Controller</text>
<text x="1131.5" y="485.3" textLength="33.8" lengthAdjust="spacingAndGlyphs" font-size="18.6" fill="#58595b" style="font-weight:400;stroke:#58595b;stroke-width:0.62px;" >3 st</text>
<text x="1076" y="521.9" textLength="33.3" lengthAdjust="spacingAndGlyphs" font-size="18.6" fill="#58595b" style="font-weight:400;stroke:#58595b;stroke-width:0.62px;" >2 st</text>
<text x="1014.7" y="566.7" textLength="33.3" lengthAdjust="spacingAndGlyphs" font-size="18.6" fill="#58595b" style="font-weight:400;stroke:#58595b;stroke-width:0.62px;" >1 st</text>
<text x="238" y="679.5" textLength="240.8" lengthAdjust="spacingAndGlyphs" font-size="17.3" fill="#2182a4" style="font-weight:400;stroke:#2182a4;stroke-width:0.6px;" >Stackable Smart PoE Switch</text>
<text x="547" y="679.5" textLength="198.8" lengthAdjust="spacingAndGlyphs" font-size="17.3" fill="#2182a4" style="font-weight:400;stroke:#2182a4;stroke-width:0.6px;" >Standard Smart Switch</text>
<text x="829.3" y="679.5" textLength="205.2" lengthAdjust="spacingAndGlyphs" font-size="17.3" fill="#2182a4" style="font-weight:400;stroke:#2182a4;stroke-width:0.6px;" >Unmanaged PoE Switch</text>
<text x="84.6" y="933.4" textLength="108.4" lengthAdjust="spacingAndGlyphs" font-size="17.3" fill="#2182a4" style="font-weight:400;stroke:#2182a4;stroke-width:0.6px;" >Access Point</text>
<text x="69.6" y="969.6" textLength="108" lengthAdjust="spacingAndGlyphs" font-size="18.9" fill="#58595b" style="font-weight:400;stroke:#58595b;stroke-width:0.62px;" >Public Area</text>
<text x="234.5" y="923.8" textLength="108.5" lengthAdjust="spacingAndGlyphs" font-size="17.3" fill="#58595b" style="font-weight:400;stroke:#58595b;stroke-width:0.62px;" >Access Point</text>
<text x="366.3" y="923.8" textLength="88.7" lengthAdjust="spacingAndGlyphs" font-size="17.3" fill="#58595b" style="font-weight:400;stroke:#58595b;stroke-width:0.62px;" >IP Camera</text>
<text x="561.3" y="923.8" textLength="20.7" lengthAdjust="spacingAndGlyphs" font-size="17.3" fill="#58595b" style="font-weight:400;stroke:#58595b;stroke-width:0.8px;" >PC</text>
<text x="670.8" y="923.8" textLength="59.7" lengthAdjust="spacingAndGlyphs" font-size="17.3" fill="#58595b" style="font-weight:400;stroke:#58595b;stroke-width:0.62px;" >Printer</text>
<text x="813.8" y="923.8" textLength="108.7" lengthAdjust="spacingAndGlyphs" font-size="17.3" fill="#58595b" style="font-weight:400;stroke:#58595b;stroke-width:0.62px;" >Access Point</text>
<text x="950.5" y="923.8" textLength="77" lengthAdjust="spacingAndGlyphs" font-size="17.3" fill="#58595b" style="font-weight:400;stroke:#58595b;stroke-width:0.62px;" >IP Phone</text>
<circle cx="932.1" cy="299.95" r="14.2" fill="#1e7fa0"/>
<text x="932.1" y="306.36" text-anchor="middle" font-size="17.8" fill="#fff" style="font-weight:400;stroke:#fff;stroke-width:0.55px">1</text>
<circle cx="214.85" cy="673.2" r="14.4" fill="#1e7fa0"/>
<text x="214.85" y="679.82" text-anchor="middle" font-size="18.4" fill="#fff" style="font-weight:400;stroke:#fff;stroke-width:0.55px">2</text>
<circle cx="522.4" cy="673.2" r="14.4" fill="#1e7fa0"/>
<text x="522.4" y="679.82" text-anchor="middle" font-size="18.4" fill="#fff" style="font-weight:400;stroke:#fff;stroke-width:0.55px">3</text>
<circle cx="804.8" cy="674.4" r="15.5" fill="#1e7fa0"/>
<text x="804.8" y="680.81" text-anchor="middle" font-size="17.8" fill="#fff" style="font-weight:400;stroke:#fff;stroke-width:0.55px">4</text>
<circle cx="62" cy="926.75" r="15.35" fill="#1e7fa0"/>
<text x="62" y="933.52" text-anchor="middle" font-size="18.8" fill="#fff" style="font-weight:400;stroke:#fff;stroke-width:0.55px">5</text>
<text x="962.9" y="223.9" textLength="57" lengthAdjust="spacingAndGlyphs" font-size="18.7" fill="#1b1f52" style="font-weight:700;stroke:#1b1f52;stroke-width:0.45px">nuclias</text>
<rect x="997.5" y="209.8" width="3.5" height="3.4" fill="#f7931e"/>
<text x="988.4" y="236.6" textLength="31.5" lengthAdjust="spacingAndGlyphs" font-size="12.2" fill="#2dace3" style="font-weight:400">hyper</text>
<text x="127.19" y="875.98" textLength="16.3" lengthAdjust="spacingAndGlyphs" font-size="5.2" fill="#3c3c3c" style="font-weight:700;stroke:#3c3c3c;stroke-width:0.25px">D-Link</text>
<text x="291.71" y="871.89" textLength="13.6" lengthAdjust="spacingAndGlyphs" font-size="4.3" fill="#3c3c3c" style="font-weight:700;stroke:#3c3c3c;stroke-width:0.25px">D-Link</text>
<text x="851.90" y="872.22" textLength="17.2" lengthAdjust="spacingAndGlyphs" font-size="5.4" fill="#3c3c3c" style="font-weight:700;stroke:#3c3c3c;stroke-width:0.25px">D-Link</text>
</svg>
</body></html>
